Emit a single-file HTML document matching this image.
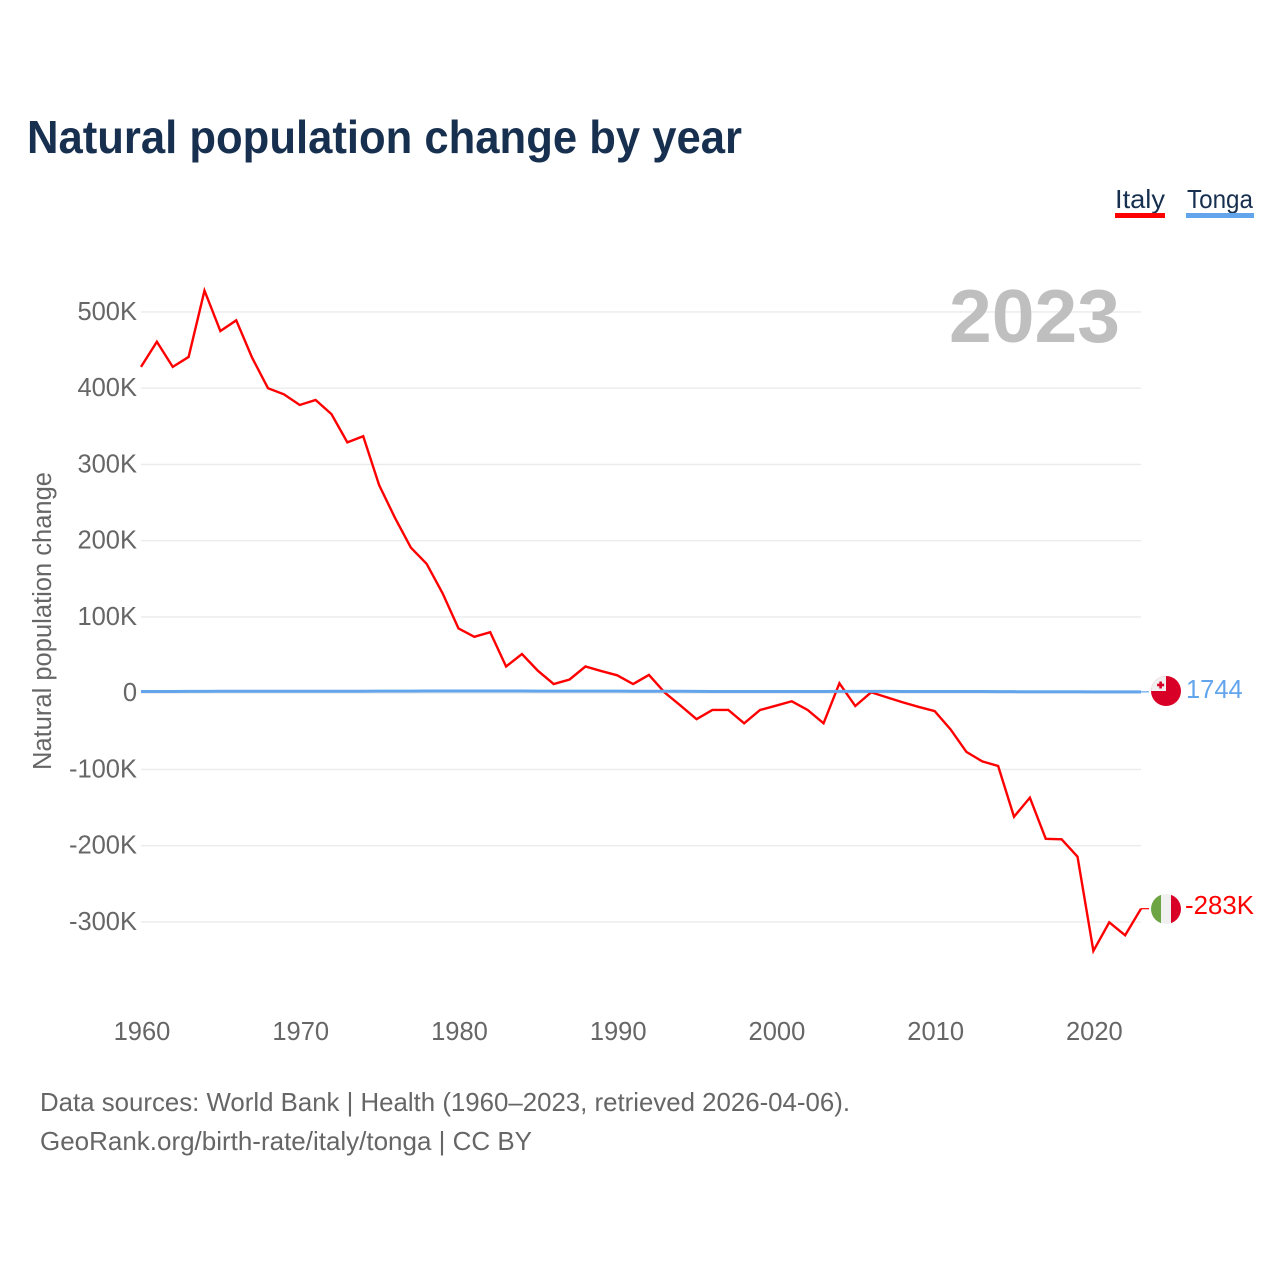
<!DOCTYPE html>
<html lang="en">
<head>
<meta charset="utf-8">
<title>Natural population change by year</title>
<style>
html,body{margin:0;padding:0;background:#fff;width:1280px;height:1280px;overflow:hidden}
svg{display:block;font-family:"Liberation Sans",sans-serif}
.tick{font-size:25.5px;fill:#666}
.foot{font-size:26px;fill:#666}
.leg{font-size:26px;fill:#18304f}
</style>
</head>
<body>
<svg id="chart" width="1280" height="1280" viewBox="0 0 1280 1280" xmlns="http://www.w3.org/2000/svg">
  <rect x="0" y="0" width="1280" height="1280" fill="#fff"/>
  <text x="27" y="153" font-size="46" font-weight="700" fill="#18304f" textLength="715" lengthAdjust="spacingAndGlyphs">Natural population change by year</text>

  <g>
    <text class="leg" x="1115" y="208" textLength="50" lengthAdjust="spacingAndGlyphs">Italy</text>
    <rect x="1115" y="213" width="50" height="5" fill="#ff0000"/>
  </g>
  <g>
    <text class="leg" x="1187" y="208" textLength="66" lengthAdjust="spacingAndGlyphs">Tonga</text>
    <rect x="1186" y="213" width="68" height="5" fill="#62a5ed"/>
  </g>

  <g id="grid"></g>
  <g id="yticks"></g>
  <g id="xticks"></g>

  <text x="949" y="342" font-size="75" font-weight="700" fill="#bfbfbf" textLength="171" lengthAdjust="spacingAndGlyphs">2023</text>

  <text transform="translate(51,621) rotate(-90)" text-anchor="middle" font-size="25.5" fill="#666" textLength="298" lengthAdjust="spacingAndGlyphs">Natural population change</text>

  <path id="line-italy" fill="none" stroke="#ff0000" stroke-width="2.4" stroke-linejoin="miter"></path>
  <path id="line-tonga" fill="none" stroke="#62a5ed" stroke-width="3"></path>
  <path id="connector-italy" fill="none" stroke="#ff0000" stroke-width="1.2"></path>
  <path id="connector-tonga" fill="none" stroke="#62a5ed" stroke-width="1.2"></path>

  <defs>
    <clipPath id="clip-tonga"><circle cx="1166" cy="691" r="15"/></clipPath>
    <clipPath id="clip-italy"><circle cx="1166" cy="909" r="15"/></clipPath>
  </defs>
  <g clip-path="url(#clip-tonga)">
    <rect x="1151" y="676" width="30" height="30" fill="#d80027"/>
    <rect x="1151" y="676" width="15" height="15" fill="#f0f0f0"/>
    <rect x="1159.3" y="681.5" width="2.6" height="7" fill="#d80027"/>
    <rect x="1157.1" y="683.7" width="7" height="2.6" fill="#d80027"/>
  </g>
  <g clip-path="url(#clip-italy)">
    <rect x="1151" y="894" width="10" height="30" fill="#6da544"/>
    <rect x="1161" y="894" width="10" height="30" fill="#f0f0f0"/>
    <rect x="1171" y="894" width="10" height="30" fill="#d80027"/>
  </g>
  <text x="1186" y="698" font-size="25.5" fill="#62a5ed">1744</text>
  <text x="1185" y="914" font-size="25.5" fill="#ff0000" textLength="69" lengthAdjust="spacingAndGlyphs">-283K</text>

  <text class="foot" x="40" y="1111" textLength="810" lengthAdjust="spacingAndGlyphs">Data sources: World Bank | Health (1960–2023, retrieved 2026-04-06).</text>
  <text class="foot" x="40" y="1150" textLength="492" lengthAdjust="spacingAndGlyphs">GeoRank.org/birth-rate/italy/tonga | CC BY</text>
</svg>
<script>
const years = [1960,1961,1962,1963,1964,1965,1966,1967,1968,1969,1970,1971,1972,1973,1974,1975,1976,1977,1978,1979,1980,1981,1982,1983,1984,1985,1986,1987,1988,1989,1990,1991,1992,1993,1994,1995,1996,1997,1998,1999,2000,2001,2002,2003,2004,2005,2006,2007,2008,2009,2010,2011,2012,2013,2014,2015,2016,2017,2018,2019,2020,2021,2022,2023];
const italyValues = [428000,461000,428000,441000,528000,475000,489000,440000,400000,392000,378000,384500,366000,329000,337000,273000,230000,191000,169500,131000,85000,74000,80000,35000,51400,29500,12000,18000,35000,29000,23500,12000,24000,700,-16400,-34000,-22000,-22000,-39500,-22000,-16400,-10600,-22000,-39500,13000,-16800,1200,-5500,-12000,-18000,-23400,-47400,-77000,-89400,-95500,-162000,-137000,-191000,-191600,-214400,-338000,-300500,-317500,-282600];
const tongaValues = [2200,2300,2300,2400,2400,2500,2600,2600,2600,2600,2600,2600,2600,2600,2600,2700,2700,2800,2900,2900,2900,2900,2900,2900,2900,2800,2700,2700,2700,2700,2700,2600,2600,2500,2500,2400,2300,2200,2200,2300,2300,2300,2300,2300,2400,2400,2400,2400,2300,2300,2200,2200,2200,2200,2100,2000,1900,1900,1900,1900,1800,1800,1700,1744];
const yTickValues = [500000,400000,300000,200000,100000,0,-100000,-200000,-300000];
const yTickLabels = ["500K","400K","300K","200K","100K","0","-100K","-200K","-300K"];
const xTickValues = [1960,1970,1980,1990,2000,2010,2020];
const xTickLabels = ["1960","1970","1980","1990","2000","2010","2020"];

const NS = "http://www.w3.org/2000/svg";
const xScale = function (year) { return 141 + (year - 1960) * (1000 / 63); };
const yScale = function (value) { return 693.2 - value * (76.25 / 100000); };

const grid = document.getElementById("grid");
const yTicks = document.getElementById("yticks");
const xTicks = document.getElementById("xticks");

yTickValues.forEach(function (value, i) {
  const gridLine = document.createElementNS(NS, "line");
  
  
  gridLine.setAttribute("x1", 141);
  gridLine.setAttribute("x2", 1141);
  gridLine.setAttribute("y1", yScale(value));
  gridLine.setAttribute("y2", yScale(value));
  gridLine.setAttribute("stroke", "#ebebeb");
  gridLine.setAttribute("stroke-width", "1.4");
  grid.appendChild(gridLine);
  const yLabel = document.createElementNS(NS, "text");
  
  
  yLabel.setAttribute("class", "tick");
  yLabel.setAttribute("x", 137);
  yLabel.setAttribute("y", yScale(value) + 8);
  yLabel.setAttribute("text-anchor", "end");
  yLabel.textContent = yTickLabels[i];
  yTicks.appendChild(yLabel);
});

xTickValues.forEach(function (year, i) {
  const xLabel = document.createElementNS(NS, "text");
  
  
  xLabel.setAttribute("class", "tick");
  xLabel.setAttribute("x", xScale(year) + 1);
  xLabel.setAttribute("y", 1040);
  xLabel.setAttribute("text-anchor", "middle");
  xLabel.textContent = xTickLabels[i];
  xTicks.appendChild(xLabel);
});

function pathFrom(values) {
  return values.map(function (value, i) {
    return (i ? "L" : "M") + xScale(years[i]).toFixed(2) + " " + yScale(value).toFixed(2);
  }).join(" ");
}
document.getElementById("line-italy").setAttribute("d", pathFrom(italyValues));
document.getElementById("line-tonga").setAttribute("d", pathFrom(tongaValues));

function connectorFrom(values) {
  const last = values[values.length - 1];
  const endX = xScale(years[years.length - 1]);
  return "M" + endX.toFixed(2) + " " + yScale(last).toFixed(2) + " L" + (endX + 8) + " " + yScale(last).toFixed(2);
}
document.getElementById("connector-italy").setAttribute("d", connectorFrom(italyValues));
document.getElementById("connector-tonga").setAttribute("d", connectorFrom(tongaValues));
</script>
</body>
</html>
